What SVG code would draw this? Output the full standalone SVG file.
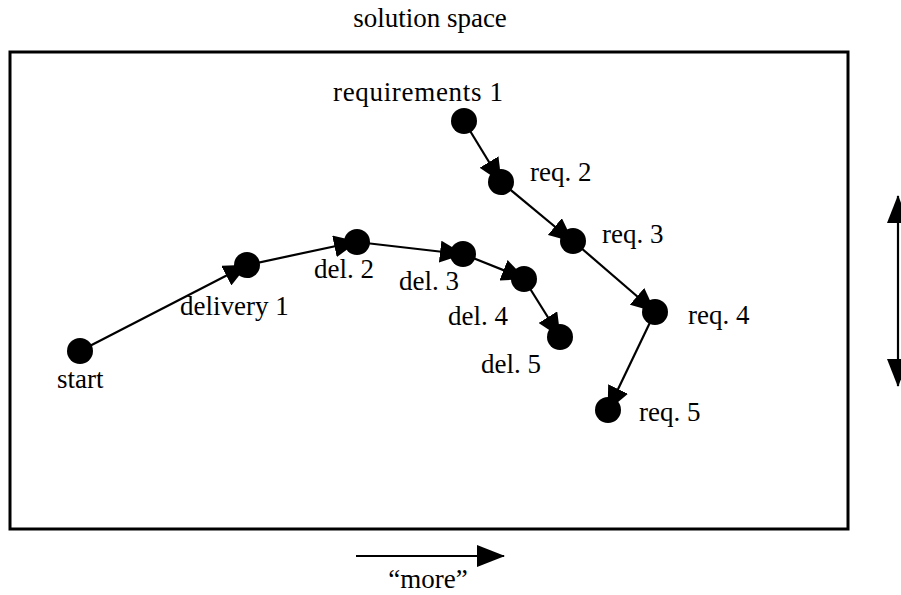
<svg xmlns="http://www.w3.org/2000/svg" width="901" height="595" viewBox="0 0 901 595">
  <style>
    .lbl { font-family: 'Liberation Serif', 'Times New Roman', Times, serif; font-size: 27px; fill: #000; }
    .node { fill: #000; }
    .edge { stroke: #000; stroke-width: 2.2; fill: none; marker-end: url(#arr); }
    .frame { fill: #fff; stroke: #000; stroke-width: 3; }
    .axis { stroke: #000; stroke-width: 2.2; fill: none; }
  </style>
  <defs>
    <marker id="arr" markerUnits="userSpaceOnUse" markerWidth="24" markerHeight="22" viewBox="0 0 24 22" refX="21" refY="11" orient="auto">
      <path d="M0,0 L24,11 L0,22 Z" fill="#000"/>
    </marker>
    <marker id="big" markerUnits="userSpaceOnUse" markerWidth="28" markerHeight="22" viewBox="0 0 28 22" refX="27" refY="11" orient="auto">
      <path d="M0,0 L28,11 L0,22 Z" fill="#000"/>
    </marker>
    <marker id="bigStart" markerUnits="userSpaceOnUse" markerWidth="28" markerHeight="22" viewBox="0 0 28 22" refX="1" refY="11" orient="auto">
      <path d="M28,0 L0,11 L28,22 Z" fill="#000"/>
    </marker>
  </defs>

  <rect class="frame" x="10" y="52" width="838" height="477"/>

  <g id="connectors">
    <line class="edge" x1="80" y1="351" x2="245" y2="266"/>
    <line class="edge" x1="247" y1="265" x2="355" y2="242"/>
    <line class="edge" x1="357" y1="242" x2="461" y2="254"/>
    <line class="edge" x1="463" y1="254" x2="523" y2="278"/>
    <line class="edge" x1="524" y1="279" x2="559" y2="335"/>
    <line class="edge" x1="464" y1="121" x2="500" y2="180"/>
    <line class="edge" x1="501" y1="182" x2="571" y2="240"/>
    <line class="edge" x1="573" y1="241" x2="653" y2="310"/>
    <line class="edge" x1="655" y1="312" x2="609" y2="408"/>
    <line class="axis" x1="356" y1="556" x2="504" y2="556" marker-end="url(#big)"/>
    <line class="axis" x1="898" y1="196" x2="898" y2="386" marker-start="url(#bigStart)" marker-end="url(#big)"/>
  </g>

  <g font-family="Liberation Serif, serif" font-size="27">
    <text class="lbl" x="430" y="27" text-anchor="middle">solution space</text>
    <g id="start"><circle class="node" cx="80" cy="351" r="13"/><text class="lbl" x="57" y="388">start</text></g>
    <g id="delivery1"><circle class="node" cx="247" cy="265" r="13"/><text class="lbl" x="180" y="315">delivery 1</text></g>
    <g id="del2"><circle class="node" cx="357" cy="242" r="13"/><text class="lbl" x="314" y="278">del. 2</text></g>
    <g id="del3"><circle class="node" cx="463" cy="254" r="13"/><text class="lbl" x="399" y="290">del. 3</text></g>
    <g id="del4"><circle class="node" cx="524" cy="279" r="13"/><text class="lbl" x="448" y="325">del. 4</text></g>
    <g id="del5"><circle class="node" cx="560" cy="337" r="13"/><text class="lbl" x="481" y="373">del. 5</text></g>
    <g id="req1"><circle class="node" cx="464" cy="121" r="13"/><text class="lbl" x="333" y="101" textLength="170" lengthAdjust="spacing">requirements 1</text></g>
    <g id="req2"><circle class="node" cx="501" cy="182" r="13"/><text class="lbl" x="530" y="181">req. 2</text></g>
    <g id="req3"><circle class="node" cx="573" cy="241" r="13"/><text class="lbl" x="602" y="243">req. 3</text></g>
    <g id="req4"><circle class="node" cx="655" cy="312" r="13"/><text class="lbl" x="688" y="324">req. 4</text></g>
    <g id="req5"><circle class="node" cx="608" cy="410" r="13"/><text class="lbl" x="639" y="421">req. 5</text></g>
    <text class="lbl" x="428" y="588" text-anchor="middle">“more”</text>
  </g>
</svg>
